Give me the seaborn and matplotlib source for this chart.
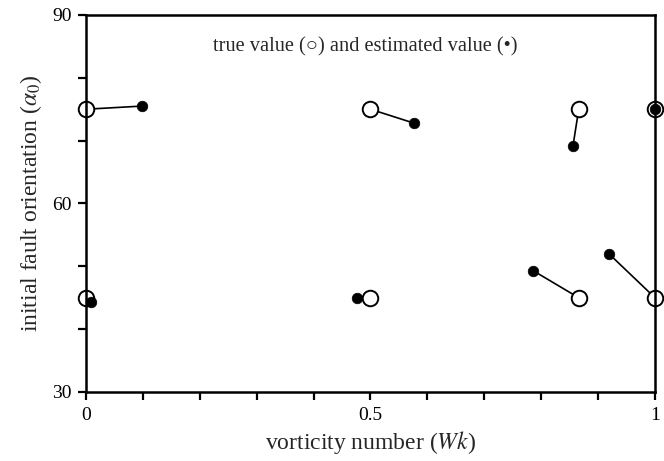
import numpy as np
import pandas as pd
import matplotlib
matplotlib.use("Agg")
import matplotlib.pyplot as plt
from matplotlib.ticker import MultipleLocator
import seaborn as sns

# True values (open circles) and estimated values (filled dots), paired by index
true_wk = [0.0, 0.5, 0.866, 1.0, 0.0, 0.5, 0.866, 1.0]
true_alpha = [75, 75, 75, 75, 45, 45, 45, 45]
est_wk = [0.098, 0.576, 0.856, 1.0, 0.009, 0.476, 0.786, 0.919]
est_alpha = [75.5, 72.8, 69.2, 75.0, 44.3, 45.0, 49.3, 52.0]

sns.set_theme(style="ticks")
plt.rcParams["font.family"] = ["Liberation Serif", "DejaVu Serif"]
plt.rcParams["mathtext.fontset"] = "stix"

n = len(true_wk)
pairs = pd.DataFrame({
    "pair": list(range(n)) * 2,
    "Wk": true_wk + est_wk,
    "alpha": true_alpha + est_alpha,
})
true_df = pd.DataFrame({"Wk": true_wk, "alpha": true_alpha})
est_df = pd.DataFrame({"Wk": est_wk, "alpha": est_alpha})

fig = plt.figure(figsize=(6.64, 4.61), dpi=100)
ax = fig.add_axes([0.1295, 0.1497, 0.8569, 0.8178])

sns.lineplot(data=pairs, x="Wk", y="alpha", units="pair", estimator=None,
             color="black", linewidth=1.2, ax=ax, legend=False, sort=False)
sns.scatterplot(data=true_df, x="Wk", y="alpha", s=125, marker="o",
                facecolor="white", edgecolor="black", linewidth=1.4,
                ax=ax, legend=False, clip_on=False, zorder=2)
sns.scatterplot(data=est_df, x="Wk", y="alpha", s=58, marker="o",
                color="black", edgecolor="black", linewidth=0.5,
                ax=ax, legend=False, clip_on=False, zorder=2.1)
for ln in ax.lines:
    ln.set_clip_on(False)

ax.set_xlim(0, 1)
ax.set_ylim(30, 90)
ax.set_xticks([0, 0.5, 1])
ax.set_xticklabels(["0", "0.5", "1"])
ax.xaxis.set_minor_locator(MultipleLocator(0.1))
ax.set_yticks([30, 60, 90])
ax.yaxis.set_minor_locator(MultipleLocator(10))

for sp in ax.spines.values():
    sp.set_linewidth(1.8)
    sp.set_color("black")
    sp.set_zorder(5)
ax.tick_params(which="both", direction="out", length=5.5, width=1.6,
               color="black", labelsize=14, labelcolor="black", pad=5)

ax.set_xlabel(r"vorticity number ($\mathit{Wk}$)", fontsize=17, labelpad=4)
ax.set_ylabel(r"initial fault orientation ($\alpha_{\mathit{0}}$)",
              fontsize=17, labelpad=6)

ax.text(0.49, 0.915, "true value (○) and estimated value (•)",
        transform=ax.transAxes, ha="center", va="center", fontsize=14.7)

fig.savefig("out.png", dpi=100)
